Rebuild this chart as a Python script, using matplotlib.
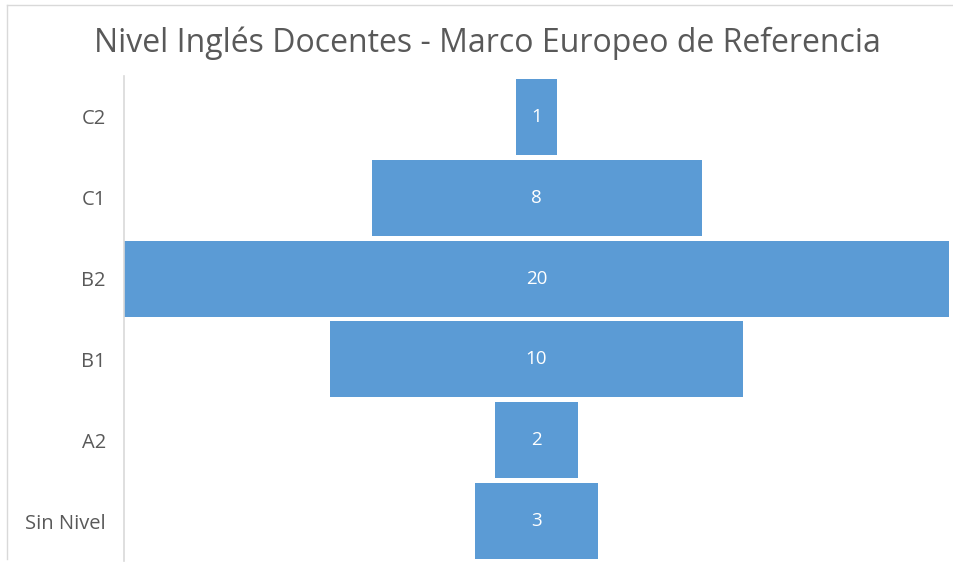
import matplotlib.pyplot as plt
from matplotlib.lines import Line2D

niveles = ['C2', 'C1', 'B2', 'B1', 'A2', 'Sin Nivel']
docentes = [1, 8, 20, 10, 2, 3]

plt.rcParams['font.family'] = ['Open Sans', 'DejaVu Sans']

fig = plt.figure(figsize=(9.54, 5.76), dpi=100)
ax = fig.add_axes([0.13, 0.0252, 0.8648, 0.842])

pos = list(range(len(niveles)))
lefts = [-v / 2 for v in docentes]
bars = ax.barh(pos, docentes, left=lefts, height=0.94, color='#5B9BD5')
for b, v in zip(bars, docentes):
    ax.text(b.get_x() + b.get_width() / 2, b.get_y() + b.get_height() / 2, str(v),
            ha='center', va='center', color='white', fontsize=13.5)

ax.set_xlim(-10, 10)
ax.set_ylim(len(niveles) - 0.5, -0.5)
ax.set_yticks(pos)
ax.set_yticklabels(niveles, fontsize=14.5, color='#595959')
ax.tick_params(axis='y', length=0, pad=13)
ax.set_xticks([])
for s in ['top', 'right', 'bottom']:
    ax.spines[s].set_visible(False)
ax.spines['left'].set_color('#d9d9d9')
ax.spines['left'].set_linewidth(1.2)

fig.text(487 / 954, 1 - 43 / 576, 'Nivel Inglés Docentes - Marco Europeo de Referencia',
         ha='center', va='center', fontsize=23, color='#595959')

# marco exterior del gráfico
fig.add_artist(Line2D([7 / 954, 7 / 954], [0.03, 1 - 5 / 576], transform=fig.transFigure,
                      color='#d9d9d9', lw=1))
fig.add_artist(Line2D([7 / 954, 1], [1 - 5 / 576, 1 - 5 / 576], transform=fig.transFigure,
                      color='#d9d9d9', lw=1))

fig.savefig('out.png', dpi=100)
